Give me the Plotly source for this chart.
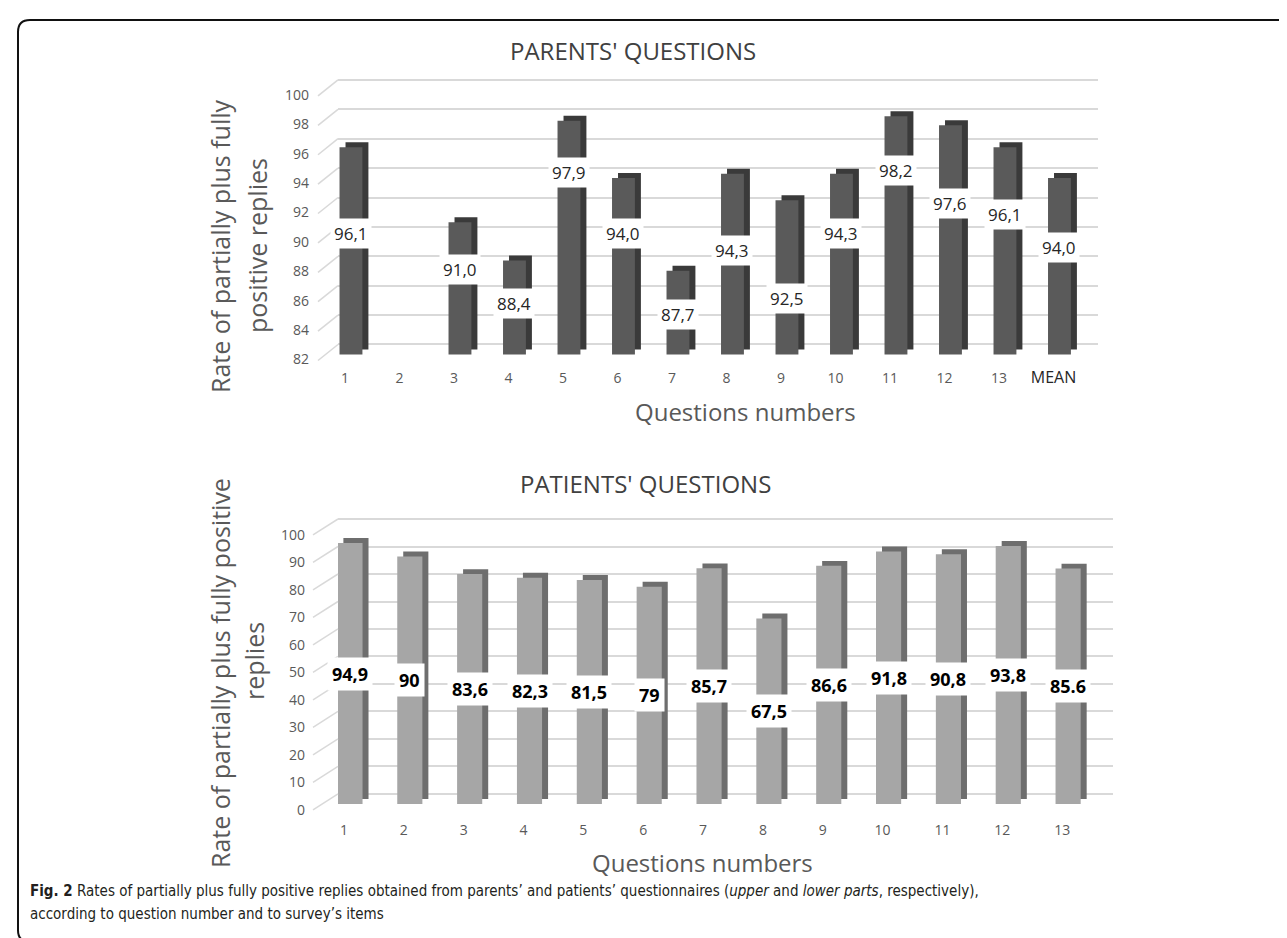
import plotly.graph_objects as go

# ---------------- data ----------------
parents_categories = ["1", "2", "3", "4", "5", "6", "7", "8", "9", "10", "11", "12", "13", "MEAN"]
parents_values = [96.1, None, 91.0, 88.4, 97.9, 94.0, 87.7, 94.3, 92.5, 94.3, 98.2, 97.6, 96.1, 94.0]
parents_labels = ["96,1", "", "91,0", "88,4", "97,9", "94,0", "87,7", "94,3", "92,5", "94,3", "98,2", "97,6", "96,1", "94,0"]
# where the (manually placed) data labels sit, in axis units
parents_label_at = [90.2, None, 87.8, 85.5, 94.4, 90.2, 84.7, 89.1, 85.8, 90.2, 94.5, 92.3, 91.5, 89.3]
parents_ticks = [82, 84, 86, 88, 90, 92, 94, 96, 98, 100]

patients_categories = ["1", "2", "3", "4", "5", "6", "7", "8", "9", "10", "11", "12", "13"]
patients_values = [94.9, 90, 83.6, 82.3, 81.5, 79, 85.7, 67.5, 86.6, 91.8, 90.8, 93.8, 85.6]
patients_labels = ["94,9", "90", "83,6", "82,3", "81,5", "79", "85,7", "67,5", "86,6", "91,8", "90,8", "93,8", "85.6"]
patients_ticks = [0, 10, 20, 30, 40, 50, 60, 70, 80, 90, 100]

parents_base = 82

# ---------------- helpers ----------------
W, H = 1287, 938
def fx(px):
    return px / W
def fy(py):
    return 1 - py / H

FONT = "Open Sans, Noto Sans, Lato, sans-serif"
TICK_COLOR = "#595959"
GRID_COLOR = "#d9d9d9"

fig = go.Figure()

def anchor_trace(xa, ya, yv):
    # transparent point so that an overlaid axis is rendered
    fig.add_trace(go.Scatter(x=[0], y=[yv], xaxis=xa, yaxis=ya, mode="markers",
                             marker=dict(opacity=0, size=1), hoverinfo="skip", showlegend=False))

# ---------------- upper chart (parents) ----------------
p_idx = list(range(len(parents_categories)))
p_len = [None if v is None else v - parents_base for v in parents_values]
# shaded depth (side + top) of each 3D bar
fig.add_trace(go.Bar(x=p_idx, y=p_len, base=parents_base + 0.34, width=0.42, offset=0.01,
                     marker=dict(color="#3a3a3a", line=dict(width=0)),
                     xaxis="x", yaxis="y", hoverinfo="skip", showlegend=False))
# front face
fig.add_trace(go.Bar(x=p_idx, y=p_len, base=parents_base, width=0.42, offset=-0.10,
                     marker=dict(color="#5a5a5a", line=dict(width=0)),
                     customdata=parents_values, hovertemplate="%{customdata}<extra></extra>",
                     xaxis="x", yaxis="y", showlegend=False))
anchor_trace("x", "y2", 90)
anchor_trace("x", "y3", 90)

# ---------------- lower chart (patients) ----------------
q_idx = list(range(len(patients_categories)))
fig.add_trace(go.Bar(x=q_idx, y=patients_values, base=1.8, width=0.42, offset=-0.01,
                     marker=dict(color="#6e6e6e", line=dict(width=0)),
                     xaxis="x2", yaxis="y4", hoverinfo="skip", showlegend=False))
fig.add_trace(go.Bar(x=q_idx, y=patients_values, width=0.42, offset=-0.11,
                     marker=dict(color="#a6a6a6", line=dict(width=0)),
                     xaxis="x2", yaxis="y4", showlegend=False))
anchor_trace("x2", "y5", 50)
anchor_trace("x2", "y6", 50)

annotations = []
# data labels (white boxes)
for i, (lab, at) in enumerate(zip(parents_labels, parents_label_at)):
    if at is None:
        continue
    annotations.append(dict(x=i + 0.11, y=at, xref="x", yref="y", text=lab, showarrow=False,
                            bgcolor="white", borderpad=3,
                            font=dict(family=FONT, size=17, color="#262626")))
for i, (lab, v) in enumerate(zip(patients_labels, patients_values)):
    annotations.append(dict(x=i + 0.10, y=v / 2, xref="x2", yref="y4", text="<b>" + lab + "</b>",
                            showarrow=False, bgcolor="white", borderpad=4,
                            font=dict(family=FONT, size=18, color="#000000")))

def pa(text, px, py, size, color="#404040", angle=0, xanchor="center", family=FONT):
    annotations.append(dict(x=fx(px), y=fy(py), xref="paper", yref="paper", text=text,
                            showarrow=False, textangle=angle, xanchor=xanchor, yanchor="middle",
                            font=dict(family=family, size=size, color=color)))

# titles
pa("PARENTS' QUESTIONS", 625, 43, 24)
pa("PATIENTS' QUESTIONS", 637, 475, 24)
# axis titles
pa("Questions numbers", 737, 403, 24, TICK_COLOR)
pa("Questions numbers", 694, 854, 24, TICK_COLOR)
pa("Rate of partially plus fully", 212, 238, 25, TICK_COLOR, angle=-90)
pa("positive replies", 249, 238, 25, TICK_COLOR, angle=-90)
pa("Rate of partially plus fully positive", 212, 665, 25, TICK_COLOR, angle=-90)
pa("replies", 246, 653, 25, TICK_COLOR, angle=-90)

# caption
CAP = "Liberation Sans Narrow, DejaVu Sans Condensed, Arial Narrow, sans-serif"
pa("<b>Fig. 2</b> Rates of partially plus fully positive replies obtained from parents\u2019 and patients\u2019 "
   "questionnaires (<i>upper</i> and <i>lower parts</i>, respectively),", 20, 883, 15, "#231f20",
   xanchor="left", family=CAP)
pa("according to question number and to survey\u2019s items", 20, 906, 15, "#231f20",
   xanchor="left", family=CAP)

# border (rounded frame, open on the right)
def P(px, py):
    return f"{fx(px):.5f},{fy(py):.5f}"
frame = (f"M {P(1300, 12)} L {P(22, 12)} Q {P(10, 12)} {P(10, 24)} "
         f"L {P(10, 922)} Q {P(10, 934)} {P(22, 934)} L {P(1300, 934)}")
shapes = [dict(type="path", path=frame, xref="paper", yref="paper",
               line=dict(color="#111111", width=2))]

# short diagonal floor edges at the left end of each gridline (3D back wall)
for t in parents_ticks:
    shapes.append(dict(type="line", xref="paper", yref="y2", x0=fx(310), x1=fx(330),
                       y0=t - 1.09, y1=t, line=dict(color=GRID_COLOR, width=1.5)))
for t in patients_ticks:
    shapes.append(dict(type="line", xref="paper", yref="y5", x0=fx(305), x1=fx(330),
                       y0=t - 5.8, y1=t, line=dict(color=GRID_COLOR, width=1.5)))

tickfont = dict(family=FONT, size=14, color=TICK_COLOR)
p_ticktext = [c if c != "MEAN" else '<span style="font-size:16px;color:#262626">MEAN</span>'
              for c in parents_categories]

hidden = dict(showgrid=False, showticklabels=False, zeroline=False, showline=False, ticks="")

fig.update_layout(
    width=W, height=H, margin=dict(l=0, r=0, t=0, b=0),
    paper_bgcolor="white", plot_bgcolor="rgba(0,0,0,0)",
    barmode="overlay", showlegend=False,
    annotations=annotations, shapes=shapes,
    # upper
    xaxis=dict(domain=[fx(330), fx(1090)], range=[-0.128, 13.817], anchor="y",
               tickmode="array", tickvals=p_idx, ticktext=p_ticktext, tickfont=tickfont,
               showgrid=False, zeroline=False, showline=False, ticks=""),
    yaxis=dict(domain=[fy(360), fy(60)], range=[81.08, 101.49], anchor="x", **hidden),
    yaxis2=dict(overlaying="y", anchor="x", range=[80.40, 100.81],
                tickmode="array", tickvals=parents_ticks,
                showgrid=True, gridcolor=GRID_COLOR, gridwidth=2, showticklabels=False,
                zeroline=False, showline=False, ticks=""),
    yaxis3=dict(overlaying="y", anchor="x", range=[81.42, 101.83],
                tickmode="array", tickvals=parents_ticks, tickfont=tickfont,
                showgrid=False, zeroline=False, showline=False, ticks="", ticklabelstandoff=28),
    # lower
    xaxis2=dict(domain=[fx(330), fx(1105)], range=[-0.10, 12.85], anchor="y4",
                tickmode="array", tickvals=q_idx, ticktext=patients_categories, tickfont=tickfont,
                showgrid=False, zeroline=False, showline=False, ticks=""),
    yaxis4=dict(domain=[fy(812), fy(500)], range=[-5.82, 107.64], anchor="x2", **hidden),
    yaxis5=dict(overlaying="y4", anchor="x2", range=[-9.46, 104.0],
                tickmode="array", tickvals=patients_ticks,
                showgrid=True, gridcolor=GRID_COLOR, gridwidth=2, showticklabels=False,
                zeroline=False, showline=False, ticks=""),
    yaxis6=dict(overlaying="y4", anchor="x2", range=[-3.64, 109.82],
                tickmode="array", tickvals=patients_ticks, tickfont=tickfont,
                showgrid=False, zeroline=False, showline=False, ticks="", ticklabelstandoff=32),
)

fig.write_html("out.html")
